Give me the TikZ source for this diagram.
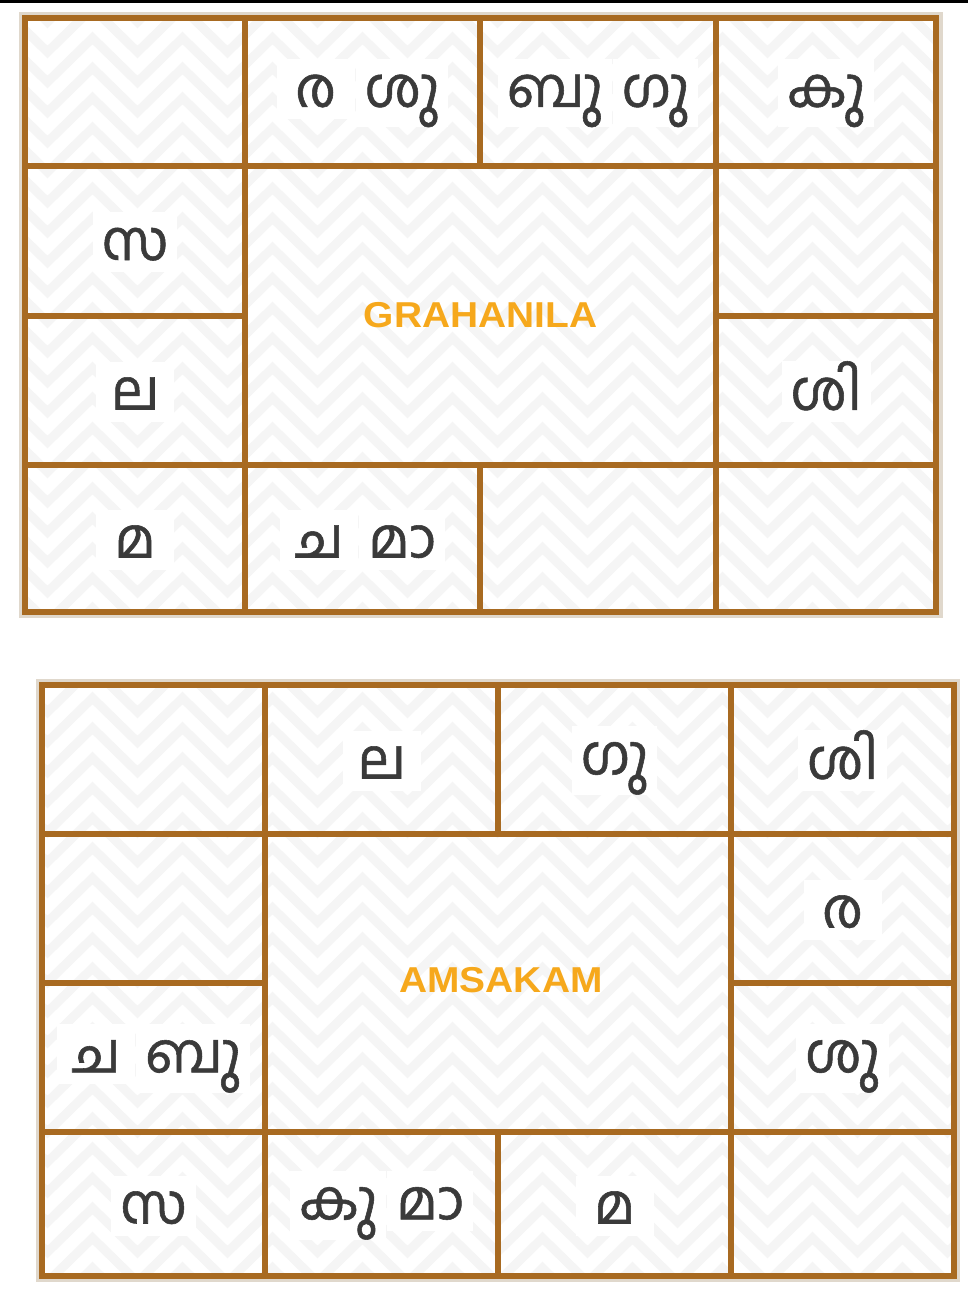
\documentclass[tikz,border=0pt]{standalone}
\usepackage{fontspec}
\usetikzlibrary{decorations.pathmorphing}
\setmainfont{Liberation Sans}
\newfontfamily\malfont[Script=Malayalam, FakeBold=1]{Hind Kochi}
\definecolor{brownline}{RGB}{168,106,33}
\definecolor{shadowc}{RGB}{224,216,204}
\definecolor{orangec}{RGB}{246,168,28}
\definecolor{inkc}{RGB}{58,58,58}
\definecolor{chevc}{RGB}{245,245,245}
\newcommand\wbx[1]{{\setbox0\hbox{#1}\ifdim\wd0<60pt \setbox0\hbox to 60pt{\hss#1\hss}\fi
  \setlength\fboxsep{0pt}\colorbox{white}{\hspace{9pt}\rule[-12pt]{0pt}{60pt}\box0\hspace{9pt}}}}
\begin{document}
\begin{tikzpicture}[x=1pt,y=-1pt,
  gridline/.style={draw=brownline, line width=6pt},
  chev/.style={draw=chevc, line width=9pt, decorate, decoration={zigzag, segment length=90pt, amplitude=22pt}},
  cellt/.style={inner sep=0pt, font=\malfont\fontsize{55}{60}\selectfont, text=inkc},
  titlet/.style={inner sep=0pt, font=\bfseries\fontsize{36}{40}\selectfont, text=orangec}]
\useasboundingbox (0,0) rectangle (968,1291);
\fill[white] (0,0) rectangle (968,1291);
\fill[black] (0,0) rectangle (968,2.5);
% ---------- chart 1 ----------
\fill[shadowc] (19,12) rectangle (943,618);
\fill[white] (25,18) rectangle (936,612);
\begin{scope}
  \clip (25,18) rectangle (936,612);
  \foreach \y in {-30,0,...,630} \draw[chev] (-20,\y) -- (990,\y);
\end{scope}
\draw[gridline] (25,18) rectangle (936,612);
\draw[gridline] (25,166) -- (936,166);
\draw[gridline] (25,465) -- (936,465);
\draw[gridline] (245,18) -- (245,612);
\draw[gridline] (716,18) -- (716,612);
\draw[gridline] (480,18) -- (480,166);
\draw[gridline] (480,465) -- (480,612);
\draw[gridline] (25,316) -- (245,316);
\draw[gridline] (716,316) -- (936,316);
\node[cellt] (a12) at (362.5,93) {\wbx{ര}\hspace{1pt}\wbx{ശു}};
\node[cellt] (a13) at (598,93) {\wbx{ബു}\hspace{1pt}\wbx{ഗു}};
\node[cellt] (a14) at (826,93) {\wbx{കു}};
\node[cellt] (a21) at (135,242) {\wbx{സ}};
\node[cellt] (a31) at (135,391.5) {\wbx{ല}};
\node[cellt] (a34) at (826,391.5) {\wbx{ശി}};
\node[cellt] (a41) at (135,539.5) {\wbx{മ}};
\node[cellt] (a42) at (362.5,539.5) {\wbx{ച}\hspace{1pt}\wbx{മാ}};
\node[titlet] (t1) at (480.5,315) {\scalebox{1.08}[1]{GRAHANILA}};
% ---------- chart 2 ----------
\fill[shadowc] (36,679) rectangle (960,1282);
\fill[white] (42,685) rectangle (954,1276);
\begin{scope}
  \clip (42,685) rectangle (954,1276);
  \foreach \y in {660,690,...,1300} \draw[chev] (-20,\y) -- (990,\y);
\end{scope}
\draw[gridline] (42,685) rectangle (954,1276);
\draw[gridline] (42,834) -- (954,834);
\draw[gridline] (42,1132) -- (954,1132);
\draw[gridline] (265,685) -- (265,1276);
\draw[gridline] (731,685) -- (731,1276);
\draw[gridline] (498,685) -- (498,834);
\draw[gridline] (498,1132) -- (498,1276);
\draw[gridline] (42,983) -- (265,983);
\draw[gridline] (731,983) -- (954,983);
\node[cellt] (b12) at (381.5,760.5) {\wbx{ല}};
\node[cellt] (b13) at (614.5,760.5) {\wbx{ഗു}};
\node[cellt] (b14) at (842.5,760.5) {\wbx{ശി}};
\node[cellt] (b24) at (842.5,909.5) {\wbx{ര}};
\node[cellt] (b31) at (153.5,1058.5) {\wbx{ച}\hspace{1pt}\wbx{ബു}};
\node[cellt] (b34) at (842.5,1058.5) {\wbx{ശു}};
\node[cellt] (b41) at (153.5,1205.5) {\wbx{സ}};
\node[cellt] (b42) at (381.5,1205.5) {\wbx{കു}\hspace{1pt}\wbx{മാ}};
\node[cellt] (b43) at (614.5,1205.5) {\wbx{മ}};
\node[titlet] (t2) at (501,980) {\scalebox{1.08}[1]{AMSAKAM}};
\end{tikzpicture}
\end{document}
